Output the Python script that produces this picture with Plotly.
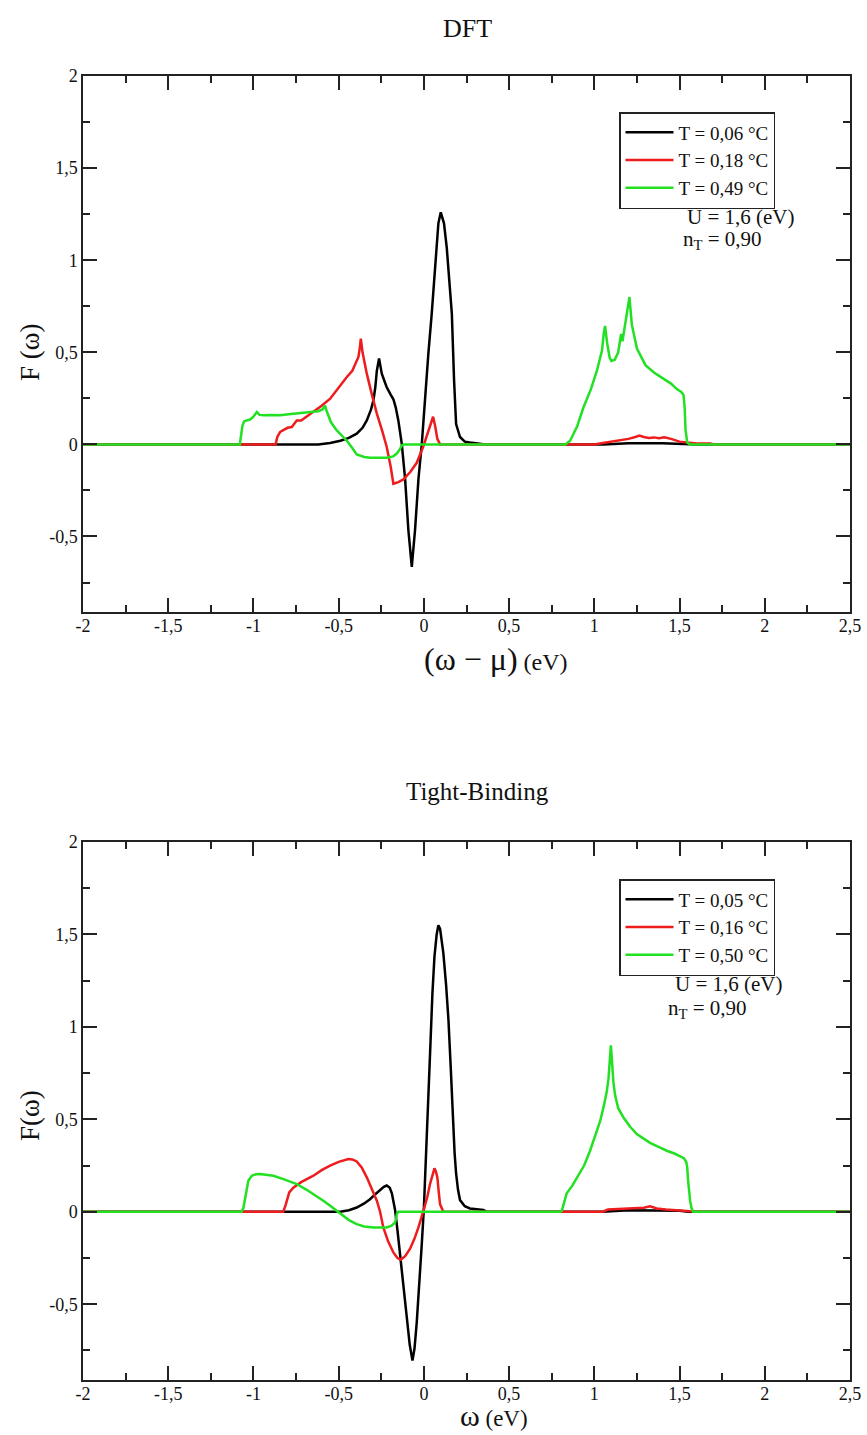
import plotly.graph_objects as go
from plotly.subplots import make_subplots

# ---- DFT panel (top) ----
dft_x_t006 = [-2.0, -0.62, -0.55, -0.49, -0.44, -0.394, -0.36, -0.335, -0.31, -0.296, -0.285, -0.276, -0.263,
              -0.247, -0.23, -0.218, -0.195, -0.179, -0.165, -0.15, -0.13, -0.11, -0.091, -0.071, -0.052, -0.032,
              -0.012, 0.007, 0.026, 0.046, 0.066, 0.085, 0.099, 0.118, 0.134, 0.15, 0.164, 0.177, 0.189, 0.212,
              0.24, 0.27, 0.34, 0.36, 1.05, 1.2, 1.4, 1.55, 1.6, 2.5]
dft_y_t006 = [0, 0, 0.008, 0.02, 0.035, 0.058, 0.09, 0.13, 0.19, 0.24, 0.31, 0.40, 0.466,
              0.384, 0.34, 0.31, 0.27, 0.245, 0.2, 0.13, 0.005, -0.19, -0.465, -0.665, -0.465, -0.19,
              0.005, 0.26, 0.49, 0.71, 0.98, 1.2, 1.26, 1.2, 1.07, 0.89, 0.71, 0.35, 0.11, 0.04,
              0.015, 0.01, 0.005, 0, 0, 0.006, 0.006, 0.004, 0, 0]

dft_x_t018 = [-2.0, -0.87, -0.86, -0.844, -0.83, -0.8, -0.775, -0.746, -0.72, -0.69, -0.648, -0.6, -0.55, -0.5,
              -0.452, -0.42, -0.404, -0.384, -0.375, -0.37, -0.36, -0.335, -0.305, -0.276, -0.245, -0.218,
              -0.195, -0.179, -0.15, -0.12, -0.08, -0.042, -0.003, 0.02, 0.036, 0.054, 0.066, 0.079, 0.095,
              0.85, 1.0, 1.05, 1.1, 1.15, 1.2, 1.24, 1.265, 1.29, 1.32, 1.35, 1.38, 1.41, 1.45, 1.5, 1.55,
              1.6, 1.68, 1.7, 2.5]
dft_y_t018 = [0, 0, 0.04, 0.067, 0.075, 0.09, 0.094, 0.13, 0.13, 0.15, 0.176, 0.21, 0.248, 0.31,
              0.366, 0.4, 0.43, 0.475, 0.53, 0.574, 0.50, 0.384, 0.27, 0.167, 0.075, -0.014,
              -0.12, -0.214, -0.205, -0.19, -0.15, -0.1, -0.01, 0.06, 0.1, 0.15, 0.1, 0.03, 0.0,
              0, 0, 0.008, 0.015, 0.02, 0.03, 0.04, 0.048, 0.04, 0.035, 0.038, 0.033, 0.038, 0.03, 0.015, 0.008,
              0.005, 0.005, 0, 0]

dft_x_t049 = [-2.0, -1.08, -1.065, -1.055, -1.04, -1.02, -1.0, -0.98, -0.965, -0.94, -0.9, -0.844, -0.78,
              -0.72, -0.687, -0.62, -0.595, -0.58, -0.57, -0.545, -0.511, -0.48, -0.452, -0.42, -0.394,
              -0.35, -0.316, -0.26, -0.218, -0.18, -0.159, -0.14, -0.13, -0.12, 0.83, 0.858, 0.9, 0.936,
              0.98, 1.015, 1.045, 1.055, 1.063, 1.075, 1.09, 1.10, 1.12, 1.14, 1.15, 1.157, 1.165, 1.175,
              1.19, 1.206, 1.22, 1.25, 1.3, 1.35, 1.4, 1.45, 1.484, 1.51, 1.523, 1.53, 1.535, 1.545, 1.56, 2.5]
dft_y_t049 = [0, 0, 0.1, 0.125, 0.13, 0.135, 0.15, 0.176, 0.16, 0.158, 0.16, 0.158, 0.165,
              0.172, 0.176, 0.18, 0.19, 0.21, 0.18, 0.12, 0.076, 0.045, 0.02, -0.02, -0.055,
              -0.068, -0.072, -0.072, -0.072, -0.065, -0.05, -0.025, -0.005, 0, 0, 0.02, 0.1, 0.2,
              0.3, 0.4, 0.51, 0.6, 0.643, 0.55, 0.47, 0.453, 0.46, 0.5, 0.57, 0.6, 0.56, 0.62,
              0.72, 0.80, 0.65, 0.52, 0.43, 0.39, 0.36, 0.33, 0.30, 0.285, 0.27, 0.2, 0.08, 0.01, 0, 0]

# ---- Tight-Binding panel (bottom) ----
tb_x_t005 = [-2.0, -0.49, -0.44, -0.394, -0.35, -0.316, -0.285, -0.257, -0.235, -0.218, -0.2, -0.188, -0.178,
             -0.169, -0.155, -0.14, -0.12, -0.1, -0.083, -0.067, -0.055, -0.042, -0.027, -0.012, 0.0, 0.017,
             0.036, 0.05, 0.062, 0.075, 0.085, 0.095, 0.114, 0.13, 0.144, 0.158, 0.17, 0.18, 0.189, 0.2,
             0.212, 0.24, 0.27, 0.349, 0.37, 1.05, 1.2, 1.4, 1.5, 1.55, 2.5]
tb_y_t005 = [0, 0, 0.008, 0.023, 0.045, 0.068, 0.095, 0.12, 0.135, 0.142, 0.13, 0.1, 0.06,
             0.01, -0.1, -0.23, -0.4, -0.57, -0.72, -0.805, -0.74, -0.6, -0.4, -0.17, 0.02, 0.38,
             0.85, 1.18, 1.38, 1.5, 1.55, 1.53, 1.40, 1.23, 1.04, 0.77, 0.5, 0.32, 0.207, 0.12,
             0.063, 0.03, 0.018, 0.01, 0, 0, 0.008, 0.008, 0.005, 0, 0]

tb_x_t016 = [-2.0, -0.825, -0.81, -0.79, -0.766, -0.72, -0.648, -0.6, -0.55, -0.5, -0.443, -0.42, -0.394,
             -0.365, -0.335, -0.305, -0.276, -0.257, -0.238, -0.21, -0.179, -0.155, -0.136, -0.11, -0.081,
             -0.055, -0.032, -0.003, 0.02, 0.036, 0.05, 0.062, 0.07, 0.079, 0.088, 0.095, 0.114, 0.78,
             1.05, 1.08, 1.15, 1.23, 1.29, 1.327, 1.345, 1.366, 1.42, 1.52, 1.6, 2.5]
tb_y_t016 = [0, 0, 0.04, 0.105, 0.13, 0.16, 0.195, 0.225, 0.25, 0.27, 0.285, 0.283, 0.272,
             0.24, 0.186, 0.125, 0.06, 0.0, -0.085, -0.16, -0.22, -0.25, -0.26, -0.24, -0.2,
             -0.145, -0.085, 0.005, 0.08, 0.15, 0.2, 0.235, 0.22, 0.186, 0.1, 0.04, 0.0, 0,
             0, 0.012, 0.015, 0.018, 0.022, 0.03, 0.025, 0.018, 0.012, 0.007, 0, 0]

tb_x_t050 = [-2.0, -1.07, -1.059, -1.05, -1.04, -1.03, -1.01, -0.985, -0.961, -0.92, -0.883, -0.82, -0.746,
             -0.69, -0.629, -0.59, -0.55, -0.52, -0.49, -0.44, -0.394, -0.35, -0.296, -0.25, -0.218, -0.19,
             -0.169, -0.162, -0.159, -0.15, 0.8, 0.809, 0.82, 0.838, 0.87, 0.897, 0.94, 0.975, 1.005,
             1.034, 1.055, 1.073, 1.083, 1.089, 1.094, 1.097, 1.101, 1.105, 1.112, 1.122, 1.14, 1.171,
             1.21, 1.249, 1.29, 1.327, 1.38, 1.425, 1.47, 1.504, 1.525, 1.539, 1.545, 1.55, 1.556, 1.562,
             1.57, 1.58, 2.5]
tb_y_t050 = [0, 0, 0.02, 0.06, 0.11, 0.168, 0.195, 0.203, 0.204, 0.2, 0.195, 0.175, 0.15,
             0.12, 0.086, 0.06, 0.032, 0.01, -0.013, -0.045, -0.067, -0.08, -0.085, -0.085, -0.085, -0.075,
             -0.058, -0.03, -0.013, 0, 0, 0.005, 0.04, 0.1, 0.14, 0.18, 0.25, 0.33, 0.41,
             0.49, 0.57, 0.65, 0.72, 0.78, 0.85, 0.9, 0.85, 0.78, 0.7, 0.63, 0.56, 0.51,
             0.46, 0.42, 0.395, 0.373, 0.35, 0.33, 0.315, 0.30, 0.29, 0.27, 0.24, 0.17, 0.1, 0.06,
             0.02, 0.0, 0]

x_tickvals = [-2, -1.5, -1, -0.5, 0, 0.5, 1, 1.5, 2, 2.5]
x_ticktext = ["-2", "-1,5", "-1", "-0,5", "0", "0,5", "1", "1,5", "2", "2,5"]
y_tickvals = [-0.5, 0, 0.5, 1, 1.5, 2]
y_ticktext = ["-0,5", "0", "0,5", "1", "1,5", "2"]

SERIF = "Liberation Serif"
W, H = 867, 1435
COLORS = ["#000000", "#ee1c1c", "#22e022"]


def px(x):
    return x / W


def py(y):
    return 1 - y / H


fig = make_subplots(rows=2, cols=1)

top = [(dft_x_t006, dft_y_t006, "T = 0,06 °C"),
       (dft_x_t018, dft_y_t018, "T = 0,18 °C"),
       (dft_x_t049, dft_y_t049, "T = 0,49 °C")]
bot = [(tb_x_t005, tb_y_t005, "T = 0,05 °C"),
       (tb_x_t016, tb_y_t016, "T = 0,16 °C"),
       (tb_x_t050, tb_y_t050, "T = 0,50 °C")]

for (x, y, name), c in zip(top, COLORS):
    fig.add_trace(go.Scatter(x=x, y=y, mode="lines", name=name, legend="legend",
                             line=dict(color=c, width=2.5)), row=1, col=1)
for (x, y, name), c in zip(bot, COLORS):
    fig.add_trace(go.Scatter(x=x, y=y, mode="lines", name=name, legend="legend2",
                             line=dict(color=c, width=2.5)), row=2, col=1)

axis_common = dict(showline=True, linecolor="#222", linewidth=1.5, mirror="ticks",
                   ticks="inside", ticklen=14, tickwidth=1.5, tickcolor="#222",
                   showgrid=False, zeroline=False, automargin=False,
                   tickfont=dict(family=SERIF, size=18, color="#111"))

minor_x = dict(ticks="inside", ticklen=7, tickwidth=1.5, tickcolor="#222", tickmode="array",
               tickvals=[-1.75, -1.25, -0.75, -0.25, 0.25, 0.75, 1.25, 1.75, 2.25])
minor_y = dict(ticks="inside", ticklen=7, tickwidth=1.5, tickcolor="#222", tickmode="array",
               tickvals=[-0.75, -0.25, 0.25, 0.75, 1.25, 1.75])

fig.update_xaxes(range=[-2, 2.5], tickmode="array", tickvals=x_tickvals, ticktext=x_ticktext,
                 minor=minor_x, domain=[px(83), px(850)], ticklabelstandoff=-3, **axis_common)
fig.update_yaxes(range=[-0.91, 2], tickmode="array", tickvals=y_tickvals, ticktext=y_ticktext,
                 minor=minor_y, **axis_common)
fig.update_yaxes(domain=[py(612), py(76)], row=1, col=1)
fig.update_yaxes(domain=[py(1380), py(842)], row=2, col=1)

legend_common = dict(xanchor="left", yanchor="top", bgcolor="white", bordercolor="#222",
                     borderwidth=1.5, font=dict(family=SERIF, size=19, color="#111"),
                     itemwidth=48)

annots = [
    dict(x=px(467), y=py(28), text="DFT", font=dict(size=26)),
    dict(x=px(477), y=py(792), text="Tight-Binding", font=dict(size=25)),
    dict(x=px(496), y=py(659), text="<span style='font-size:32px'>(ω − μ)</span> (eV)", font=dict(size=24)),
    dict(x=px(494), y=py(1415), text="<span style='font-size:30px'>ω</span> (eV)", font=dict(size=23)),
    dict(x=px(30), y=py(352), text="F (ω)", textangle=-90, font=dict(size=27)),
    dict(x=px(30), y=py(1116), text="F(ω)", textangle=-90, font=dict(size=27)),
    dict(x=px(740), y=py(217), text="U = 1,6 (eV)", font=dict(size=21)),
    dict(x=px(722), y=py(240), text="n<sub>T</sub> = 0,90", font=dict(size=21)),
    dict(x=px(728), y=py(984), text="U = 1,6 (eV)", font=dict(size=21)),
    dict(x=px(707), y=py(1009), text="n<sub>T</sub> = 0,90", font=dict(size=21)),
]
for a in annots:
    a.update(xref="paper", yref="paper", showarrow=False, xanchor="center", yanchor="middle")
    a["font"].update(family=SERIF, color="#111")

fig.update_layout(
    width=W, height=H,
    margin=dict(l=0, r=0, t=0, b=0, autoexpand=False),
    paper_bgcolor="white", plot_bgcolor="white",
    font=dict(family=SERIF, color="#111"),
    legend=dict(x=px(619), y=py(112), **legend_common),
    legend2=dict(x=px(619), y=py(879), **legend_common),
    annotations=annots,
)

fig.write_html("out.html", config={"displayModeBar": False},
               post_script="document.body.style.margin='0px';")
